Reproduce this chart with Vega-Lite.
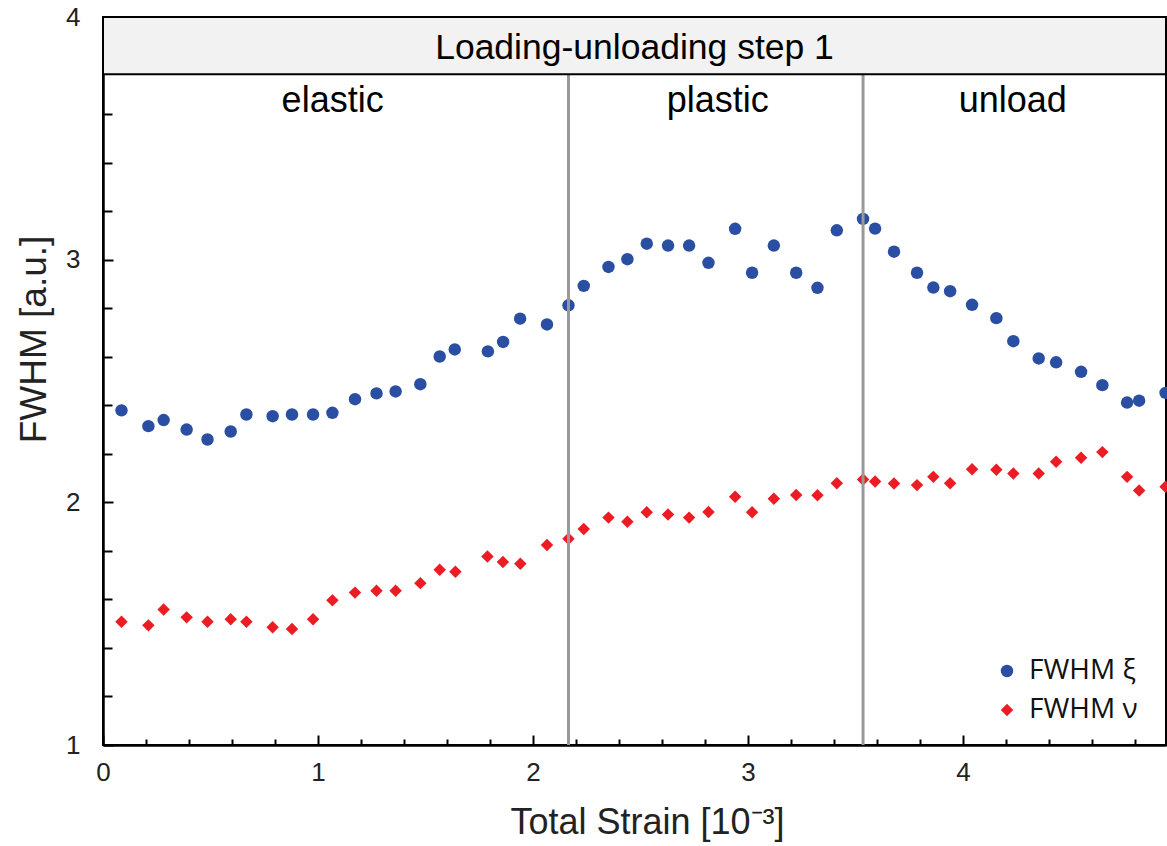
{
  "$schema": "https://vega.github.io/schema/vega-lite/v6.json",
  "width": 1063,
  "height": 728,
  "autosize": {"type": "none"},
  "padding": {"left": 103, "top": 17, "right": 1, "bottom": 101},
  "background": "white",
  "config": {
    "view": {"stroke": "#000", "strokeWidth": 2},
    "font": "Liberation Sans"
  },
  "datasets": {
    "fwhm": [
      {"series": "FWHM ξ", "strain": 0.086, "fwhm": 2.379},
      {"series": "FWHM ξ", "strain": 0.211, "fwhm": 2.314},
      {"series": "FWHM ξ", "strain": 0.282, "fwhm": 2.339},
      {"series": "FWHM ξ", "strain": 0.389, "fwhm": 2.300},
      {"series": "FWHM ξ", "strain": 0.486, "fwhm": 2.259},
      {"series": "FWHM ξ", "strain": 0.594, "fwhm": 2.292},
      {"series": "FWHM ξ", "strain": 0.667, "fwhm": 2.362},
      {"series": "FWHM ξ", "strain": 0.789, "fwhm": 2.355},
      {"series": "FWHM ξ", "strain": 0.879, "fwhm": 2.362},
      {"series": "FWHM ξ", "strain": 0.977, "fwhm": 2.362},
      {"series": "FWHM ξ", "strain": 1.067, "fwhm": 2.369},
      {"series": "FWHM ξ", "strain": 1.172, "fwhm": 2.425},
      {"series": "FWHM ξ", "strain": 1.272, "fwhm": 2.449},
      {"series": "FWHM ξ", "strain": 1.361, "fwhm": 2.457},
      {"series": "FWHM ξ", "strain": 1.476, "fwhm": 2.487},
      {"series": "FWHM ξ", "strain": 1.566, "fwhm": 2.601},
      {"series": "FWHM ξ", "strain": 1.636, "fwhm": 2.630},
      {"series": "FWHM ξ", "strain": 1.790, "fwhm": 2.622},
      {"series": "FWHM ξ", "strain": 1.861, "fwhm": 2.661},
      {"series": "FWHM ξ", "strain": 1.940, "fwhm": 2.757},
      {"series": "FWHM ξ", "strain": 2.065, "fwhm": 2.733},
      {"series": "FWHM ξ", "strain": 2.165, "fwhm": 2.812},
      {"series": "FWHM ξ", "strain": 2.236, "fwhm": 2.892},
      {"series": "FWHM ξ", "strain": 2.351, "fwhm": 2.970},
      {"series": "FWHM ξ", "strain": 2.439, "fwhm": 3.002},
      {"series": "FWHM ξ", "strain": 2.529, "fwhm": 3.066},
      {"series": "FWHM ξ", "strain": 2.628, "fwhm": 3.058},
      {"series": "FWHM ξ", "strain": 2.726, "fwhm": 3.058},
      {"series": "FWHM ξ", "strain": 2.816, "fwhm": 2.987},
      {"series": "FWHM ξ", "strain": 2.940, "fwhm": 3.127},
      {"series": "FWHM ξ", "strain": 3.019, "fwhm": 2.946},
      {"series": "FWHM ξ", "strain": 3.120, "fwhm": 3.058},
      {"series": "FWHM ξ", "strain": 3.224, "fwhm": 2.946},
      {"series": "FWHM ξ", "strain": 3.323, "fwhm": 2.884},
      {"series": "FWHM ξ", "strain": 3.413, "fwhm": 3.121},
      {"series": "FWHM ξ", "strain": 3.535, "fwhm": 3.168},
      {"series": "FWHM ξ", "strain": 3.591, "fwhm": 3.128},
      {"series": "FWHM ξ", "strain": 3.679, "fwhm": 3.033},
      {"series": "FWHM ξ", "strain": 3.786, "fwhm": 2.946},
      {"series": "FWHM ξ", "strain": 3.862, "fwhm": 2.885},
      {"series": "FWHM ξ", "strain": 3.940, "fwhm": 2.870},
      {"series": "FWHM ξ", "strain": 4.042, "fwhm": 2.814},
      {"series": "FWHM ξ", "strain": 4.155, "fwhm": 2.759},
      {"series": "FWHM ξ", "strain": 4.234, "fwhm": 2.664},
      {"series": "FWHM ξ", "strain": 4.352, "fwhm": 2.593},
      {"series": "FWHM ξ", "strain": 4.433, "fwhm": 2.577},
      {"series": "FWHM ξ", "strain": 4.549, "fwhm": 2.538},
      {"series": "FWHM ξ", "strain": 4.648, "fwhm": 2.483},
      {"series": "FWHM ξ", "strain": 4.763, "fwhm": 2.411},
      {"series": "FWHM ξ", "strain": 4.819, "fwhm": 2.419},
      {"series": "FWHM ξ", "strain": 4.942, "fwhm": 2.451},
      {"series": "FWHM ν", "strain": 0.086, "fwhm": 1.508},
      {"series": "FWHM ν", "strain": 0.211, "fwhm": 1.493},
      {"series": "FWHM ν", "strain": 0.282, "fwhm": 1.558},
      {"series": "FWHM ν", "strain": 0.389, "fwhm": 1.526},
      {"series": "FWHM ν", "strain": 0.486, "fwhm": 1.508},
      {"series": "FWHM ν", "strain": 0.594, "fwhm": 1.518},
      {"series": "FWHM ν", "strain": 0.667, "fwhm": 1.508},
      {"series": "FWHM ν", "strain": 0.789, "fwhm": 1.485},
      {"series": "FWHM ν", "strain": 0.879, "fwhm": 1.478},
      {"series": "FWHM ν", "strain": 0.977, "fwhm": 1.518},
      {"series": "FWHM ν", "strain": 1.067, "fwhm": 1.596},
      {"series": "FWHM ν", "strain": 1.172, "fwhm": 1.628},
      {"series": "FWHM ν", "strain": 1.272, "fwhm": 1.636},
      {"series": "FWHM ν", "strain": 1.361, "fwhm": 1.636},
      {"series": "FWHM ν", "strain": 1.476, "fwhm": 1.667},
      {"series": "FWHM ν", "strain": 1.566, "fwhm": 1.722},
      {"series": "FWHM ν", "strain": 1.639, "fwhm": 1.714},
      {"series": "FWHM ν", "strain": 1.788, "fwhm": 1.777},
      {"series": "FWHM ν", "strain": 1.860, "fwhm": 1.754},
      {"series": "FWHM ν", "strain": 1.941, "fwhm": 1.747},
      {"series": "FWHM ν", "strain": 2.065, "fwhm": 1.824},
      {"series": "FWHM ν", "strain": 2.165, "fwhm": 1.850},
      {"series": "FWHM ν", "strain": 2.236, "fwhm": 1.890},
      {"series": "FWHM ν", "strain": 2.351, "fwhm": 1.937},
      {"series": "FWHM ν", "strain": 2.439, "fwhm": 1.920},
      {"series": "FWHM ν", "strain": 2.529, "fwhm": 1.959},
      {"series": "FWHM ν", "strain": 2.628, "fwhm": 1.950},
      {"series": "FWHM ν", "strain": 2.726, "fwhm": 1.937},
      {"series": "FWHM ν", "strain": 2.816, "fwhm": 1.960},
      {"series": "FWHM ν", "strain": 2.940, "fwhm": 2.023},
      {"series": "FWHM ν", "strain": 3.019, "fwhm": 1.959},
      {"series": "FWHM ν", "strain": 3.120, "fwhm": 2.015},
      {"series": "FWHM ν", "strain": 3.224, "fwhm": 2.030},
      {"series": "FWHM ν", "strain": 3.323, "fwhm": 2.029},
      {"series": "FWHM ν", "strain": 3.413, "fwhm": 2.079},
      {"series": "FWHM ν", "strain": 3.535, "fwhm": 2.094},
      {"series": "FWHM ν", "strain": 3.591, "fwhm": 2.086},
      {"series": "FWHM ν", "strain": 3.679, "fwhm": 2.078},
      {"series": "FWHM ν", "strain": 3.786, "fwhm": 2.071},
      {"series": "FWHM ν", "strain": 3.862, "fwhm": 2.105},
      {"series": "FWHM ν", "strain": 3.940, "fwhm": 2.079},
      {"series": "FWHM ν", "strain": 4.042, "fwhm": 2.136},
      {"series": "FWHM ν", "strain": 4.155, "fwhm": 2.134},
      {"series": "FWHM ν", "strain": 4.234, "fwhm": 2.119},
      {"series": "FWHM ν", "strain": 4.352, "fwhm": 2.119},
      {"series": "FWHM ν", "strain": 4.433, "fwhm": 2.167},
      {"series": "FWHM ν", "strain": 4.549, "fwhm": 2.184},
      {"series": "FWHM ν", "strain": 4.648, "fwhm": 2.207},
      {"series": "FWHM ν", "strain": 4.763, "fwhm": 2.105},
      {"series": "FWHM ν", "strain": 4.819, "fwhm": 2.049},
      {"series": "FWHM ν", "strain": 4.942, "fwhm": 2.064}
    ],
    "phases": [
      {"name": "elastic", "center": 1.068},
      {"name": "plastic", "center": 2.859},
      {"name": "unload", "center": 4.231}
    ],
    "boundaries": [
      {"at": 2.165},
      {"at": 3.535}
    ],
    "header": [
      {"label": "Loading-unloading step 1", "x0": 0, "x1": 4.944, "y0": 3.764, "y1": 4, "xm": 2.472, "ym": 3.826}
    ]
  },
  "layer": [
    {
      "data": {"name": "fwhm"},
      "mark": {"type": "point", "filled": true, "opacity": 1, "size": 155},
      "encoding": {
        "x": {
          "field": "strain",
          "type": "quantitative",
          "scale": {"domain": [0, 4.944], "nice": false, "zero": false},
          "axis": {
            "title": "Total Strain [10⁻³]",
            "values": [0, 0.1, 0.2, 0.3, 0.4, 0.5, 0.6, 0.7, 0.8, 0.9, 1, 1.1, 1.2, 1.3, 1.4, 1.5, 1.6, 1.7, 1.8, 1.9, 2, 2.1, 2.2, 2.3, 2.4, 2.5, 2.6, 2.7, 2.8, 2.9, 3, 3.1, 3.2, 3.3, 3.4, 3.5, 3.6, 3.7, 3.8, 3.9, 4, 4.1, 4.2, 4.3, 4.4, 4.5, 4.6, 4.7, 4.8, 4.9],
            "labelExpr": "abs(datum.value - round(datum.value)) < 0.001 ? format(datum.value, 'd') : ''",
            "tickSize": {"condition": {"test": "abs(datum.value - round(datum.value)) < 0.001", "value": -10}, "value": -6},
            "tickWidth": 2,
            "tickColor": "#000",
            "domainColor": "#000",
            "domainWidth": 2.5,
            "grid": false,
            "labelFlush": false,
            "labelOverlap": false,
            "labelBound": false,
            "labelFontSize": 26,
            "labelColor": "#222",
            "labelPadding": 24,
            "titleFontSize": 36,
            "titleFontWeight": "normal",
            "titleColor": "#222",
            "titleX": 544,
            "titleY": 88,
            "titleBaseline": "alphabetic",
            "titleAlign": "center"
          }
        },
        "y": {
          "field": "fwhm",
          "type": "quantitative",
          "scale": {"domain": [1, 4], "nice": false, "zero": false},
          "axis": {
            "title": "FWHM [a.u.]",
            "values": [1, 1.1, 1.2, 1.3, 1.4, 1.5, 1.6, 1.7, 1.8, 1.9, 2, 2.1, 2.2, 2.3, 2.4, 2.5, 2.6, 2.7, 2.8, 2.9, 3, 3.1, 3.2, 3.3, 3.4, 3.5, 3.6, 3.7, 3.8, 3.9, 4],
            "labelExpr": "abs(datum.value - round(datum.value)) < 0.001 ? format(datum.value, 'd') : ''",
            "tickSize": {"condition": {"test": "abs(datum.value - round(datum.value)) < 0.001", "value": -10}, "value": -9},
            "tickWidth": 2,
            "tickColor": "#000",
            "domainColor": "#000",
            "domainWidth": 2.5,
            "grid": false,
            "labelFlush": false,
            "labelOverlap": false,
            "labelBound": false,
            "labelFontSize": 26,
            "labelColor": "#222",
            "labelPadding": 33,
            "titleFontSize": 37,
            "titleFontWeight": "normal",
            "titleColor": "#222",
            "titleAngle": 270,
            "titleX": -58,
            "titleY": 322,
            "titleBaseline": "alphabetic",
            "titleAlign": "center"
          }
        },
        "color": {
          "field": "series",
          "type": "nominal",
          "scale": {"domain": ["FWHM ξ", "FWHM ν"], "range": ["#2a4fa2", "#ec1c24"]},
          "legend": {
            "title": null,
            "orient": "none",
            "legendX": 890,
            "legendY": 640,
            "labelFont": "Open Sans",
            "labelFontSize": 28,
            "labelColor": "#111",
            "symbolSize": 155,
            "rowPadding": 11,
            "labelOffset": 8
          }
        },
        "shape": {
          "field": "series",
          "type": "nominal",
          "scale": {"domain": ["FWHM ξ", "FWHM ν"], "range": ["circle", "diamond"]}
        }
      }
    },
    {
      "data": {"name": "boundaries"},
      "mark": {"type": "rule", "color": "#999999", "strokeWidth": 3},
      "encoding": {
        "x": {"field": "at", "type": "quantitative"},
        "y": {"datum": 1, "type": "quantitative"},
        "y2": {"datum": 3.764}
      }
    },
    {
      "data": {"name": "header"},
      "mark": {"type": "rect", "fill": "#f2f2f2", "stroke": "#000", "strokeWidth": 2},
      "encoding": {
        "x": {"field": "x0", "type": "quantitative"},
        "x2": {"field": "x1"},
        "y": {"field": "y0", "type": "quantitative"},
        "y2": {"field": "y1"}
      }
    },
    {
      "data": {"name": "header"},
      "mark": {"type": "text", "fontSize": 35.5, "font": "Liberation Sans", "color": "#000", "align": "center", "baseline": "alphabetic"},
      "encoding": {
        "x": {"field": "xm", "type": "quantitative"},
        "y": {"field": "ym", "type": "quantitative"},
        "text": {"field": "label"}
      }
    },
    {
      "data": {"name": "phases"},
      "mark": {"type": "text", "fontSize": 36, "font": "Liberation Sans", "color": "#000", "align": "center", "baseline": "alphabetic"},
      "encoding": {
        "x": {"field": "center", "type": "quantitative"},
        "y": {"datum": 3.607, "type": "quantitative"},
        "text": {"field": "name"}
      }
    }
  ]
}
